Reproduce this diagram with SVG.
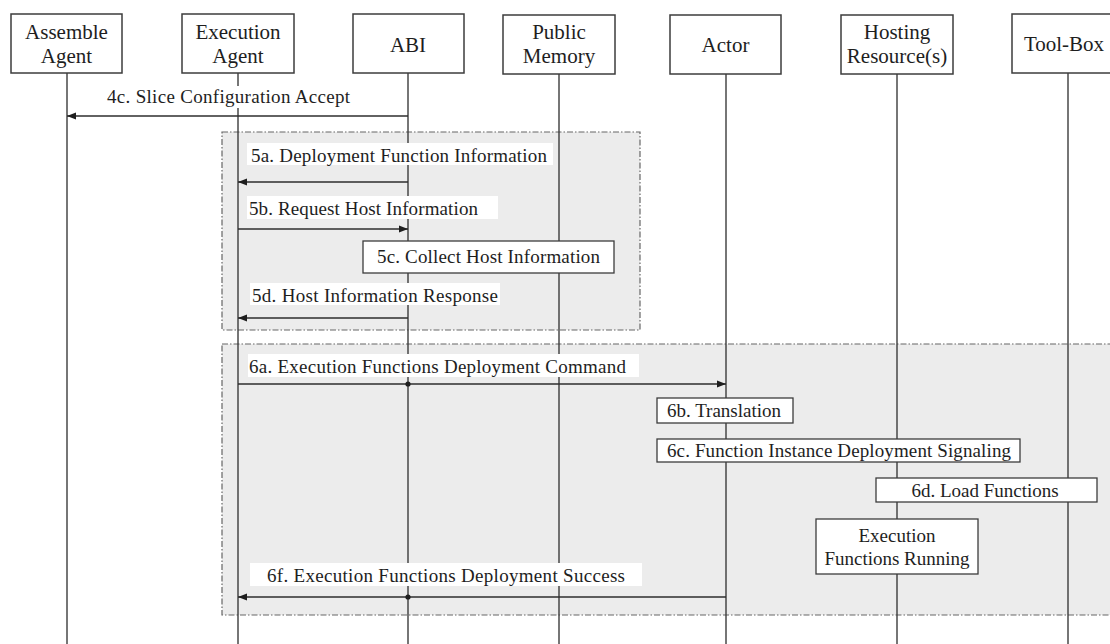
<svg xmlns="http://www.w3.org/2000/svg" width="1110" height="644" viewBox="0 0 1110 644" font-family="'Liberation Serif', Tinos, 'Times New Roman', 'DejaVu Serif', serif">
  <defs>
    <style>
      text { font-family: "Liberation Serif", Tinos, "Times New Roman", "DejaVu Serif", serif; fill: #1e1e1e; }
      .hd { font-size: 21px; text-anchor: middle; }
      .lb { font-size: 19px; }
      .lbm { font-size: 19px; text-anchor: middle; }
      .box { fill: #ffffff; stroke: #3c3c3c; stroke-width: 1.5; }
      .life { stroke: #3c3c3c; stroke-width: 1.4; fill: none; }
      .msg { stroke: #2e2e2e; stroke-width: 1.4; fill: none; marker-end: url(#arrow); }
      .bg { fill: #ffffff; stroke: none; }
      .frame { fill: #ececec; stroke: #666666; stroke-width: 1.2; stroke-dasharray: 6 2 1.5 2; }
      .note { fill: #ffffff; stroke: #3c3c3c; stroke-width: 1.3; }
      .dot { fill: #1e1e1e; }
    </style>
    <marker id="arrow" markerWidth="9" markerHeight="8" refX="9" refY="4" orient="auto" markerUnits="userSpaceOnUse">
      <path d="M0,0.5 L9,4 L0,7.5 z" fill="#1e1e1e"/>
    </marker>
  </defs>

  <rect x="0" y="0" width="1110" height="644" fill="#ffffff"/>

  <!-- grouped phases -->
  <g id="phase-5">
    <rect class="frame" x="222" y="132" width="418" height="198"/>
  </g>
  <g id="phase-6">
    <rect class="frame" x="222" y="344" width="900" height="271"/>
  </g>

  <!-- lifelines -->
  <g id="lifelines">
    <line class="life" x1="67" y1="73" x2="67" y2="644"/>
    <line class="life" x1="238" y1="73" x2="238" y2="644"/>
    <line class="life" x1="408" y1="73" x2="408" y2="644"/>
    <line class="life" x1="559" y1="74" x2="559" y2="644"/>
    <line class="life" x1="726" y1="74" x2="726" y2="644"/>
    <line class="life" x1="897" y1="74" x2="897" y2="644"/>
    <line class="life" x1="1068" y1="73" x2="1068" y2="644"/>
  </g>

  <!-- participants -->
  <g id="assemble-agent">
    <rect class="box" x="11" y="14" width="111" height="59"/>
    <text class="hd" x="66.5" y="39">Assemble</text>
    <text class="hd" x="66.5" y="63">Agent</text>
  </g>
  <g id="execution-agent">
    <rect class="box" x="182" y="14" width="112" height="59"/>
    <text class="hd" x="238" y="39">Execution</text>
    <text class="hd" x="238" y="63">Agent</text>
  </g>
  <g id="abi">
    <rect class="box" x="353" y="14" width="111" height="59"/>
    <text class="hd" x="408" y="52">ABI</text>
  </g>
  <g id="public-memory">
    <rect class="box" x="503" y="15" width="112" height="59"/>
    <text class="hd" x="559" y="39">Public</text>
    <text class="hd" x="559" y="63">Memory</text>
  </g>
  <g id="actor">
    <rect class="box" x="670" y="15" width="111" height="59"/>
    <text class="hd" x="725.5" y="52">Actor</text>
  </g>
  <g id="hosting-resources">
    <rect class="box" x="841" y="15" width="112" height="59"/>
    <text class="hd" x="897" y="39">Hosting</text>
    <text class="hd" x="897" y="63">Resource(s)</text>
  </g>
  <g id="tool-box">
    <rect class="box" x="1012" y="14" width="112" height="59"/>
    <text class="hd" x="1064" y="51">Tool-Box</text>
  </g>

  <!-- messages -->
  <g id="connectors">
    <rect class="bg" x="103" y="86" width="252" height="22"/>
    <text class="lb" x="107" y="103" textLength="243" lengthAdjust="spacing">4c. Slice Configuration Accept</text>
    <line class="msg" x1="408" y1="116" x2="67" y2="116"/>

    <rect class="bg" x="247" y="143" width="306" height="22"/>
    <text class="lb" x="251" y="162" textLength="296" lengthAdjust="spacing">5a. Deployment Function Information</text>
    <line class="msg" x1="408" y1="182" x2="238" y2="182"/>

    <rect class="bg" x="247" y="196" width="251" height="23"/>
    <text class="lb" x="249" y="215" textLength="229" lengthAdjust="spacing">5b. Request Host Information</text>
    <line class="msg" x1="238" y1="229" x2="408" y2="229"/>

    <rect class="bg" x="250" y="283" width="250" height="22"/>
    <text class="lb" x="252" y="302" textLength="246" lengthAdjust="spacing">5d. Host Information Response</text>
    <line class="msg" x1="408" y1="318" x2="238" y2="318"/>

    <rect class="bg" x="248" y="354" width="391" height="23"/>
    <text class="lb" x="249" y="373" textLength="377" lengthAdjust="spacing">6a. Execution Functions Deployment Command</text>
    <line class="msg" x1="238" y1="384" x2="726" y2="384"/>
    <circle class="dot" cx="408" cy="384" r="2.6"/>

    <rect class="bg" x="250" y="563" width="392" height="23"/>
    <text class="lb" x="267" y="582" textLength="358" lengthAdjust="spacing">6f. Execution Functions Deployment Success</text>
    <line class="msg" x1="726" y1="597" x2="238" y2="597"/>
    <circle class="dot" cx="408" cy="597" r="2.6"/>
  </g>

  <!-- local actions -->
  <g id="collect-host-information">
    <rect class="note" x="363" y="241" width="251" height="32"/>
    <text class="lb" x="377" y="263" textLength="223" lengthAdjust="spacing">5c. Collect Host Information</text>
  </g>
  <g id="translation">
    <rect class="note" x="657" y="398" width="136" height="25"/>
    <text class="lb" x="667" y="417">6b. Translation</text>
  </g>
  <g id="instance-deployment-signaling">
    <rect class="note" x="657" y="439" width="363" height="23"/>
    <text class="lb" x="667" y="457" textLength="344" lengthAdjust="spacing">6c. Function Instance Deployment Signaling</text>
  </g>
  <g id="load-functions">
    <rect class="note" x="876" y="478" width="221" height="24"/>
    <text class="lbm" x="985" y="497">6d. Load Functions</text>
  </g>
  <g id="functions-running">
    <rect class="note" x="816" y="519" width="162" height="55"/>
    <text class="lbm" x="897" y="542">Execution</text>
    <text class="lbm" x="897" y="565">Functions Running</text>
  </g>
</svg>
